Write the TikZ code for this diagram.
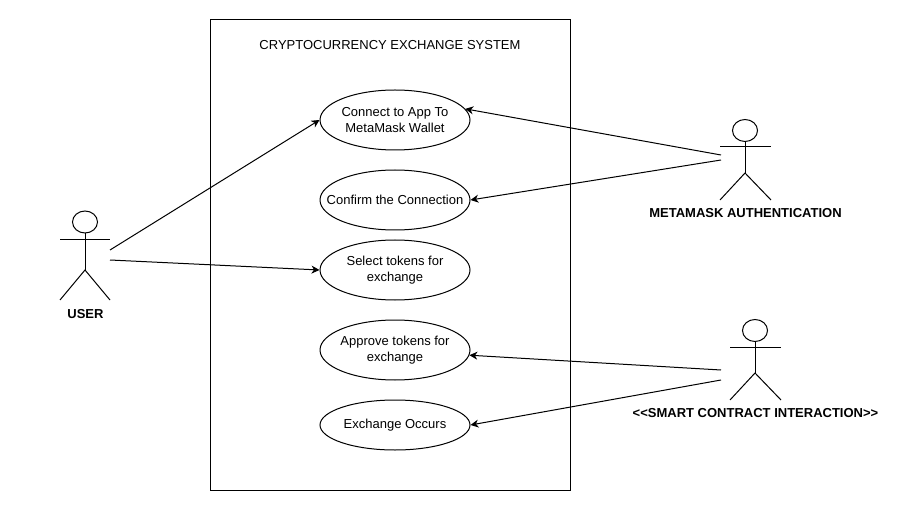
\documentclass[tikz,border=0pt]{standalone}
\usepackage{fontspec}
\setmainfont{Liberation Sans}
\usetikzlibrary{arrows.meta,shapes.geometric}
\tikzset{
  every node/.style={font=\fontsize{13}{16}\selectfont, text=black},
  usecase/.style={draw=black, line width=1pt, ellipse, minimum width=150pt, minimum height=60pt, inner sep=-30pt, align=center},
  flow/.style={draw=black, line width=1pt, -{Stealth[length=8pt,width=8pt,inset=2.5pt]}},
  limb/.style={draw=black, line width=1pt},
  head/.style={draw=black, line width=1pt, ellipse, minimum width=25pt, minimum height=22pt, inner sep=0pt},
  caption/.style={font=\fontsize{13}{16}\selectfont\bfseries, inner sep=0pt},
  title/.style={font=\fontsize{13}{16}\selectfont, inner sep=0pt}
}
\begin{document}
\begin{tikzpicture}[x=1pt,y=-1pt]
\useasboundingbox (0,0) rectangle (907,521);
\fill[white] (0,0) rectangle (907,521);
\node[draw=black, line width=1pt, minimum width=360pt, minimum height=470pt, inner sep=0pt] (sys) at (390,255) {};
\node[title] (systitle) at (390,45) {CRYPTOCURRENCY EXCHANGE SYSTEM};
\node[usecase] (e1) at (395,120) {Connect to App To\\MetaMask Wallet};
\node[usecase] (e2) at (395,200) {Confirm the Connection};
\node[usecase] (e3) at (395,270) {Select tokens for\\exchange};
\node[usecase] (e4) at (395,350) {Approve tokens for\\exchange};
\node[usecase, minimum height=50pt] (e5) at (395,425) {Exchange Occurs};
% user actor
\node[head] (uh) at (85,222) {};
\coordinate (uhip) at (85,270);
\coordinate (ularm) at (60,240);
\coordinate (urarm) at (110,240);
\coordinate (ulfoot) at (60,300);
\coordinate (urfoot) at (110,300);
\draw[limb] (uh.south) -- (uhip);
\draw[limb] (ularm) -- (urarm);
\draw[limb] (ulfoot) -- (uhip) -- (urfoot);
\node[caption] (ul) at (85.5,314) {USER};
\coordinate (ua) at (110,250);
\coordinate (ub) at (110,260);
% metamask actor
\node[head] (mh) at (745,130.5) {};
\coordinate (mhip) at (745,173);
\coordinate (mlarm) at (720,147);
\coordinate (mrarm) at (771,147);
\coordinate (mlfoot) at (720,200);
\coordinate (mrfoot) at (771,200);
\draw[limb] (mh.south) -- (mhip);
\draw[limb] (mlarm) -- (mrarm);
\draw[limb] (mlfoot) -- (mhip) -- (mrfoot);
\node[caption] (ml) at (745.5,213.5) {METAMASK AUTHENTICATION};
\coordinate (ma) at (721,155);
\coordinate (mb) at (721,160);
% smart contract actor
\node[head] (sh) at (755,330.5) {};
\coordinate (ship) at (755,373);
\coordinate (slarm) at (730,347);
\coordinate (srarm) at (781,347);
\coordinate (slfoot) at (730,400);
\coordinate (srfoot) at (781,400);
\draw[limb] (sh.south) -- (ship);
\draw[limb] (slarm) -- (srarm);
\draw[limb] (slfoot) -- (ship) -- (srfoot);
\node[caption] (sl) at (755.5,413.5) {<{}<SMART CONTRACT INTERACTION>{}>};
\coordinate (sa) at (721,370);
\coordinate (sb) at (721,380);
% connectors
\draw[flow] (ua) -- (e1.west);
\draw[flow] (ub) -- (e3.west);
\draw[flow] (ma) -- (e1.9);
\draw[flow] (mb) -- (e2.east);
\draw[flow] (sa) -- (e4.-4);
\draw[flow] (sb) -- (e5.east);
\end{tikzpicture}
\end{document}
